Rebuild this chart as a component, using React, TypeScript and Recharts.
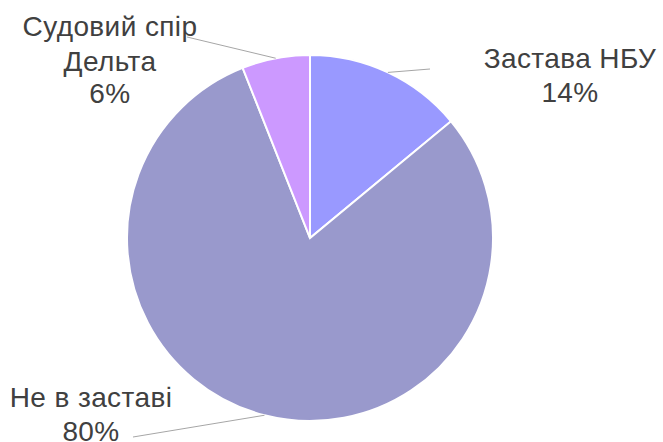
import React from 'react';
import { PieChart, Pie, Cell } from 'recharts';

const categories = ['Застава НБУ', 'Не в заставі', 'Судовий спір Дельта'];
const shares = [14, 80, 6];
const labelLines = [['Застава НБУ'], ['Не в заставі'], ['Судовий спір', 'Дельта']];

const colors = ['#9999ff', '#9999cc', '#cc99ff'];

// label layout offsets relative to pie centre (presentation only)
const labelLayout = [
  { lx: 120, ly: -169, tx: 570 - 310, ty: [-180, -146] },
  { lx: -177, ly: 199, tx: 91 - 310, ty: [159, 193] },
  { lx: -123, ly: -201, tx: 110 - 310, ty: [-212, -177, -145] },
];

const data = categories.map((c, i) => ({ name: c, value: shares[i] }));

const RAD = Math.PI / 180;

const renderLabel = (props: any) => {
  const { cx, cy, midAngle, outerRadius, percent, index } = props;
  const lay = labelLayout[index];
  const sx = cx + outerRadius * Math.cos(-midAngle * RAD);
  const sy = cy + outerRadius * Math.sin(-midAngle * RAD);
  const lines = [...labelLines[index], `${Math.round(percent * 100)}%`];
  return (
    <g key={`lbl-${index}`}>
      <line x1={sx} y1={sy} x2={cx + lay.lx} y2={cy + lay.ly} stroke="#a6a6a6" strokeWidth={1} />
      {lines.map((t, k) => (
        <text
          key={k}
          x={cx + lay.tx}
          y={cy + lay.ty[k]}
          textAnchor="middle"
          dominantBaseline="central"
          fill="#404040"
          fontSize={28}
          letterSpacing={0.4}
          fontFamily="'Liberation Sans', Arial, sans-serif"
        >
          {t}
        </text>
      ))}
    </g>
  );
};

export default function App() {
  return (
    <div style={{ position: 'absolute', left: 0, top: 0, width: 663, height: 442, background: '#fff' }}>
      <PieChart width={663} height={442} margin={{ top: 0, right: 0, bottom: 0, left: 0 }}>
        <Pie
          data={data}
          dataKey="value"
          nameKey="name"
          cx={310}
          cy={238}
          outerRadius={183}
          startAngle={90}
          endAngle={-270}
          stroke="#ffffff"
          strokeWidth={2}
          label={renderLabel}
          labelLine={false}
          isAnimationActive={false}
        >
          {data.map((d, i) => (
            <Cell key={d.name} fill={colors[i]} />
          ))}
        </Pie>
      </PieChart>
    </div>
  );
}
